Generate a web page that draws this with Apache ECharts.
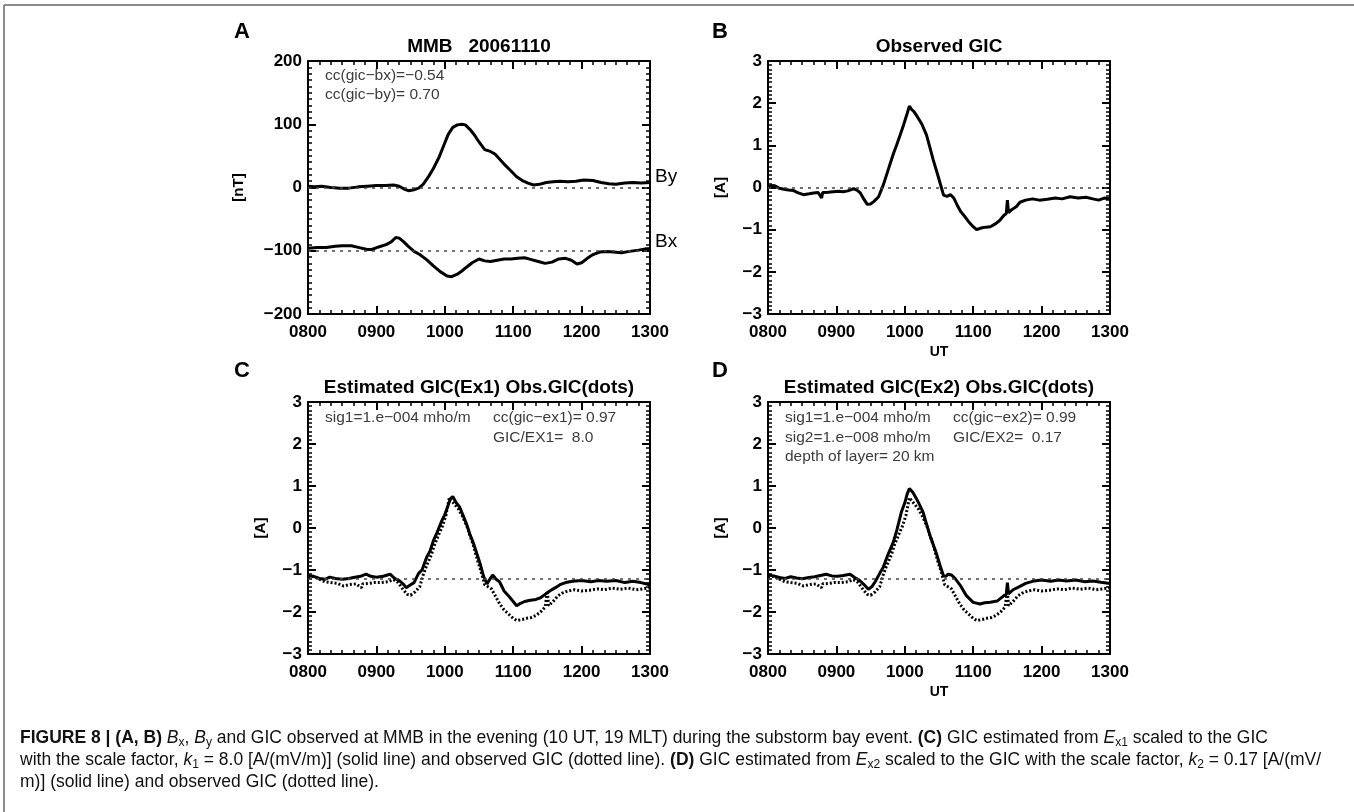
<!DOCTYPE html>
<html>
<head>
<meta charset="utf-8">
<script src="https://cdn.jsdelivr.net/npm/echarts@6/dist/echarts.min.js"></script>
<style>
  html, body { margin: 0; padding: 0; background: #fff; }
  #chart { width: 1354px; height: 812px; }
</style>
</head>
<body>
<div id="chart"></div>
<script>
// x values are minutes after 0800 UT
const timeTicks = ['0800', '0900', '1000', '1100', '1200', '1300'];

// panel A, MMB magnetometer [nT]
const byData = [[0,2],[6,1],[12,2],[20,0],[28,-1],[36,-1],[44,1],[52,2],[60,3],[68,3],[75,4],[80,2],[85,-3],[88,-5],[92,-4],[97,-1],[101,5],[106,18],[110,30],[115,48],[119,66],[123,84],[127,95],[131,99],[135,100],[138,99],[142,92],[146,83],[150,72],[155,60],[160,57],[164,53],[168,45],[172,37],[177,28],[183,17],[188,11],[193,7],[198,4],[203,5],[209,8],[215,9],[221,10],[228,9],[235,10],[242,12],[250,11],[257,8],[264,6],[270,5],[278,7],[285,8],[292,7],[300,8]];
const bxData = [[0,-96],[8,-95],[16,-95],[24,-93],[30,-92],[38,-92],[45,-95],[52,-98],[56,-98],[62,-94],[69,-90],[73,-86],[77,-79],[80,-80],[84,-86],[88,-93],[93,-101],[98,-106],[104,-114],[110,-124],[116,-133],[122,-140],[126,-141],[131,-137],[135,-132],[139,-126],[144,-119],[150,-113],[155,-116],[160,-117],[166,-115],[172,-113],[178,-113],[184,-112],[190,-111],[196,-114],[202,-117],[208,-120],[214,-118],[220,-113],[226,-112],[231,-115],[236,-121],[240,-119],[245,-112],[250,-106],[256,-102],[262,-101],[268,-102],[275,-103],[282,-101],[290,-99],[296,-97],[300,-97]];
const refLinesB = [0, -100];

// panel B, observed GIC [A]
const gicObs = [[0,0.02],[3,0.05],[6,0.04],[10,-0.02],[14,-0.04],[18,-0.06],[22,-0.07],[26,-0.12],[31,-0.17],[36,-0.15],[40,-0.13],[44,-0.12],[47,-0.25],[48,-0.12],[53,-0.11],[57,-0.1],[62,-0.09],[66,-0.1],[70,-0.08],[75,-0.03],[78,-0.06],[81,-0.13],[84,-0.27],[87,-0.4],[90,-0.39],[93,-0.33],[97,-0.22],[101,0.05],[104,0.3],[107,0.55],[110,0.8],[113,1.02],[116,1.25],[119,1.49],[122,1.75],[124,1.93],[126,1.85],[128,1.8],[131,1.68],[135,1.5],[139,1.25],[142,0.95],[145,0.65],[148,0.38],[151,0.1],[154,-0.18],[157,-0.21],[160,-0.17],[163,-0.25],[166,-0.42],[169,-0.57],[173,-0.7],[176,-0.81],[180,-0.93],[183,-1.0],[187,-0.96],[191,-0.94],[195,-0.93],[199,-0.87],[203,-0.79],[207,-0.66],[209,-0.62],[210,-0.3],[211,-0.6],[214,-0.52],[218,-0.45],[221,-0.35],[226,-0.3],[232,-0.27],[238,-0.3],[245,-0.28],[252,-0.25],[258,-0.27],[265,-0.22],[272,-0.25],[279,-0.23],[285,-0.27],[290,-0.3],[295,-0.25],[300,-0.27]];
const refLinesGic = [0];

// panels C and D, observed GIC drawn with offset (dots)
const gicObsDots = [[0,-1.18],[5,-1.15],[10,-1.22],[15,-1.28],[20,-1.3],[26,-1.32],[31,-1.38],[36,-1.35],[42,-1.33],[47,-1.42],[48,-1.33],[53,-1.32],[58,-1.3],[64,-1.3],[70,-1.28],[75,-1.23],[79,-1.3],[83,-1.45],[87,-1.58],[90,-1.6],[94,-1.52],[98,-1.4],[101,-1.12],[104,-0.9],[108,-0.65],[111,-0.4],[114,-0.2],[118,0.05],[121,0.3],[124,0.72],[126,0.65],[129,0.55],[132,0.45],[136,0.25],[140,0.0],[143,-0.25],[146,-0.5],[149,-0.8],[152,-1.05],[155,-1.35],[158,-1.4],[161,-1.45],[164,-1.6],[168,-1.8],[172,-1.95],[176,-2.05],[180,-2.15],[183,-2.2],[188,-2.18],[192,-2.15],[196,-2.13],[200,-2.08],[204,-2.0],[208,-1.88],[210,-1.5],[211,-1.85],[215,-1.75],[219,-1.62],[223,-1.55],[228,-1.5],[234,-1.47],[240,-1.5],[247,-1.48],[254,-1.45],[260,-1.47],[267,-1.43],[274,-1.46],[281,-1.43],[288,-1.47],[294,-1.45],[300,-1.42]];
const gicEstEx1 = [[0,-1.14],[5,-1.15],[10,-1.2],[15,-1.22],[19,-1.17],[24,-1.2],[30,-1.22],[36,-1.2],[40,-1.18],[46,-1.15],[51,-1.1],[55,-1.15],[60,-1.17],[66,-1.15],[72,-1.1],[76,-1.2],[80,-1.25],[84,-1.35],[86,-1.42],[90,-1.35],[93,-1.3],[97,-1.08],[100,-1.0],[104,-0.7],[107,-0.55],[110,-0.3],[113,-0.12],[117,0.15],[120,0.32],[123,0.55],[125,0.7],[127,0.75],[130,0.6],[133,0.5],[136,0.3],[139,0.1],[142,-0.15],[145,-0.35],[148,-0.6],[151,-0.85],[154,-1.15],[157,-1.33],[160,-1.2],[162,-1.12],[165,-1.22],[168,-1.28],[172,-1.5],[176,-1.62],[180,-1.75],[183,-1.85],[186,-1.8],[190,-1.75],[195,-1.72],[200,-1.7],[204,-1.66],[208,-1.58],[212,-1.5],[217,-1.42],[221,-1.35],[226,-1.3],[232,-1.27],[240,-1.25],[248,-1.28],[255,-1.25],[262,-1.27],[270,-1.25],[278,-1.3],[285,-1.27],[292,-1.3],[300,-1.35]];
const gicEstEx2 = [[0,-1.12],[5,-1.14],[10,-1.18],[15,-1.2],[20,-1.16],[25,-1.19],[30,-1.21],[36,-1.18],[41,-1.16],[46,-1.13],[51,-1.1],[56,-1.14],[61,-1.15],[66,-1.13],[72,-1.1],[76,-1.18],[80,-1.24],[84,-1.34],[88,-1.46],[91,-1.4],[94,-1.28],[98,-1.08],[101,-0.94],[105,-0.65],[110,-0.33],[113,-0.05],[117,0.38],[120,0.6],[122,0.8],[124,0.94],[127,0.85],[130,0.71],[133,0.55],[136,0.38],[139,0.1],[142,-0.17],[145,-0.4],[148,-0.63],[151,-0.9],[154,-1.14],[156,-1.15],[158,-1.1],[161,-1.12],[164,-1.2],[169,-1.38],[174,-1.61],[180,-1.77],[186,-1.81],[190,-1.78],[195,-1.77],[201,-1.74],[207,-1.61],[209,-1.58],[210,-1.3],[211,-1.57],[215,-1.47],[221,-1.39],[226,-1.32],[232,-1.27],[240,-1.24],[248,-1.27],[255,-1.24],[262,-1.26],[270,-1.24],[278,-1.28],[285,-1.26],[292,-1.29],[300,-1.32]];
const refLinesEst = [-1.2];

const TICK_FONT = 'Liberation Sans, Arial, sans-serif';

function xAxes(g, withName) {
  const base = {
    gridIndex: g, type: 'value', min: 0, max: 300, interval: 60,
    axisLine: { onZero: false, lineStyle: { color: '#000', width: 2 } },
    axisTick: { inside: true, length: 8, lineStyle: { color: '#000', width: 2 } },
    minorTick: { show: true, splitNumber: 6, length: 4, lineStyle: { color: '#000', width: 1.5 } },
    splitLine: { show: false }
  };
  return [
    Object.assign({}, base, {
      position: 'bottom',
      axisLabel: {
        margin: 10, color: '#000', fontSize: 17, fontWeight: 'bold', fontFamily: TICK_FONT,
        formatter: v => timeTicks[Math.round(v / 60)]
      },
      name: withName ? 'UT' : '',
      nameLocation: 'middle', nameGap: 31,
      nameTextStyle: { color: '#000', fontSize: 14, fontWeight: 'bold', fontFamily: TICK_FONT }
    }),
    Object.assign({}, base, { position: 'top', axisLabel: { show: false } })
  ];
}

function yAxes(g, min, max, interval, name, nameGap) {
  const base = {
    gridIndex: g, type: 'value', min: min, max: max, interval: interval,
    axisLine: { onZero: false, lineStyle: { color: '#000', width: 2 } },
    axisTick: { inside: true, length: 8, lineStyle: { color: '#000', width: 2 } },
    minorTick: { show: true, splitNumber: 10, length: 4, lineStyle: { color: '#000', width: 1.5 } },
    splitLine: { show: false }
  };
  return [
    Object.assign({}, base, {
      position: 'left',
      name: name, nameLocation: 'middle', nameGap: nameGap,
      nameTextStyle: { color: '#000', fontSize: 15, fontWeight: 'bold', fontFamily: TICK_FONT },
      axisLabel: {
        margin: 6, color: '#000', fontSize: 17, fontWeight: 'bold', fontFamily: TICK_FONT,
        formatter: v => String(v).replace('-', '\u2212')
      }
    }),
    Object.assign({}, base, { position: 'right', axisLabel: { show: false } })
  ];
}

function refLine(values) {
  return {
    silent: true, symbol: 'none', label: { show: false },
    lineStyle: { type: [3, 5], color: '#444', width: 1.5 },
    data: values.map(v => ({ yAxis: v }))
  };
}

function line(g, data, dotted, extra) {
  return Object.assign({
    type: 'line', xAxisIndex: 2 * g, yAxisIndex: 2 * g, data: data,
    showSymbol: false, symbol: 'none', animation: false,
    lineStyle: { color: '#000', width: 3, type: dotted ? [2, 2] : 'solid' }
  }, extra || {});
}

function note(x, y, text) {
  return {
    type: 'text', x: x, y: y,
    style: { text: text, fill: '#3c3c3c', font: '15.5px Liberation Sans, Arial, sans-serif', verticalAlign: 'middle' }
  };
}

function heading(x, y, text, size) {
  return {
    type: 'text', x: x, y: y,
    style: { text: text, fill: '#000', font: 'bold ' + size + 'px Liberation Sans, Arial, sans-serif', align: 'center', verticalAlign: 'middle' }
  };
}

const capRich = {
  b: { fontWeight: 'bold', fontSize: 17.5, lineHeight: 22 },
  i: { fontStyle: 'italic', fontSize: 17.5, lineHeight: 22 },
  s: { fontSize: 12, lineHeight: 13, verticalAlign: 'bottom' }
};
function caption(y, text) {
  return {
    type: 'text', x: 20, y: y,
    style: {
      text: text, rich: capRich, fill: '#111',
      font: '17.5px Liberation Sans, Arial, sans-serif', lineHeight: 22, verticalAlign: 'middle'
    }
  };
}

const chart = echarts.init(document.getElementById('chart'));
chart.setOption({
  backgroundColor: '#fff',
  animation: false,
  grid: [
    { left: 308, top: 61, width: 342, height: 253 },
    { left: 768, top: 61, width: 342, height: 253 },
    { left: 308, top: 402, width: 342, height: 252 },
    { left: 768, top: 402, width: 342, height: 252 }
  ],
  xAxis: [].concat(xAxes(0, false), xAxes(1, true), xAxes(2, false), xAxes(3, true)),
  yAxis: [].concat(
    yAxes(0, -200, 200, 100, '[nT]', 62),
    yAxes(1, -3, 3, 1, '[A]', 40),
    yAxes(2, -3, 3, 1, '[A]', 40),
    yAxes(3, -3, 3, 1, '[A]', 40)
  ),
  series: [
    line(0, byData, false, {
      markLine: refLine(refLinesB),
      endLabel: { show: true, formatter: 'By', color: '#000', fontSize: 19, fontFamily: TICK_FONT, distance: 5, offset: [0, -6] }
    }),
    line(0, bxData, false, {
      endLabel: { show: true, formatter: 'Bx', color: '#000', fontSize: 19, fontFamily: TICK_FONT, distance: 5, offset: [0, -7] }
    }),
    line(1, gicObs, false, { markLine: refLine(refLinesGic) }),
    line(2, gicObsDots, true, { markLine: refLine(refLinesEst) }),
    line(2, gicEstEx1, false),
    line(3, gicObsDots, true, { markLine: refLine(refLinesEst) }),
    line(3, gicEstEx2, false)
  ],
  graphic: [
    { type: 'line', shape: { x1: 4, y1: 5, x2: 1354, y2: 5 }, style: { stroke: '#8c8c8c', lineWidth: 2 } },
    { type: 'line', shape: { x1: 4, y1: 5, x2: 4, y2: 812 }, style: { stroke: '#8c8c8c', lineWidth: 2 } },
    heading(242, 32, 'A', 22),
    heading(720, 32, 'B', 22),
    heading(242, 371, 'C', 22),
    heading(720, 371, 'D', 22),
    heading(479, 47, 'MMB   20061110', 19),
    heading(939, 47, 'Observed GIC', 19),
    heading(479, 388, 'Estimated GIC(Ex1) Obs.GIC(dots)', 19),
    heading(939, 388, 'Estimated GIC(Ex2) Obs.GIC(dots)', 19),
    note(325, 76, 'cc(gic\u2212bx)=\u22120.54'),
    note(325, 95, 'cc(gic\u2212by)= 0.70'),
    note(325, 418, 'sig1=1.e\u2212004 mho/m'),
    note(493, 418, 'cc(gic\u2212ex1)= 0.97'),
    note(493, 438, 'GIC/EX1=  8.0'),
    note(785, 418, 'sig1=1.e\u2212004 mho/m'),
    note(785, 438, 'sig2=1.e\u2212008 mho/m'),
    note(785, 457, 'depth of layer= 20 km'),
    note(953, 418, 'cc(gic\u2212ex2)= 0.99'),
    note(953, 438, 'GIC/EX2=  0.17'),
    caption(738, '{b|FIGURE 8 | (A, B)} {i|B}{s|x}, {i|B}{s|y} and GIC observed at MMB in the evening (10 UT, 19 MLT) during the substorm bay event. {b|(C)} GIC estimated from {i|E}{s|x1} scaled to the GIC'),
    caption(760, 'with the scale factor, {i|k}{s|1} = 8.0 [A/(mV/m)] (solid line) and observed GIC (dotted line). {b|(D)} GIC estimated from {i|E}{s|x2} scaled to the GIC with the scale factor, {i|k}{s|2} = 0.17 [A/(mV/'),
    caption(782, 'm)] (solid line) and observed GIC (dotted line).')
  ]
});
</script>
</body>
</html>
